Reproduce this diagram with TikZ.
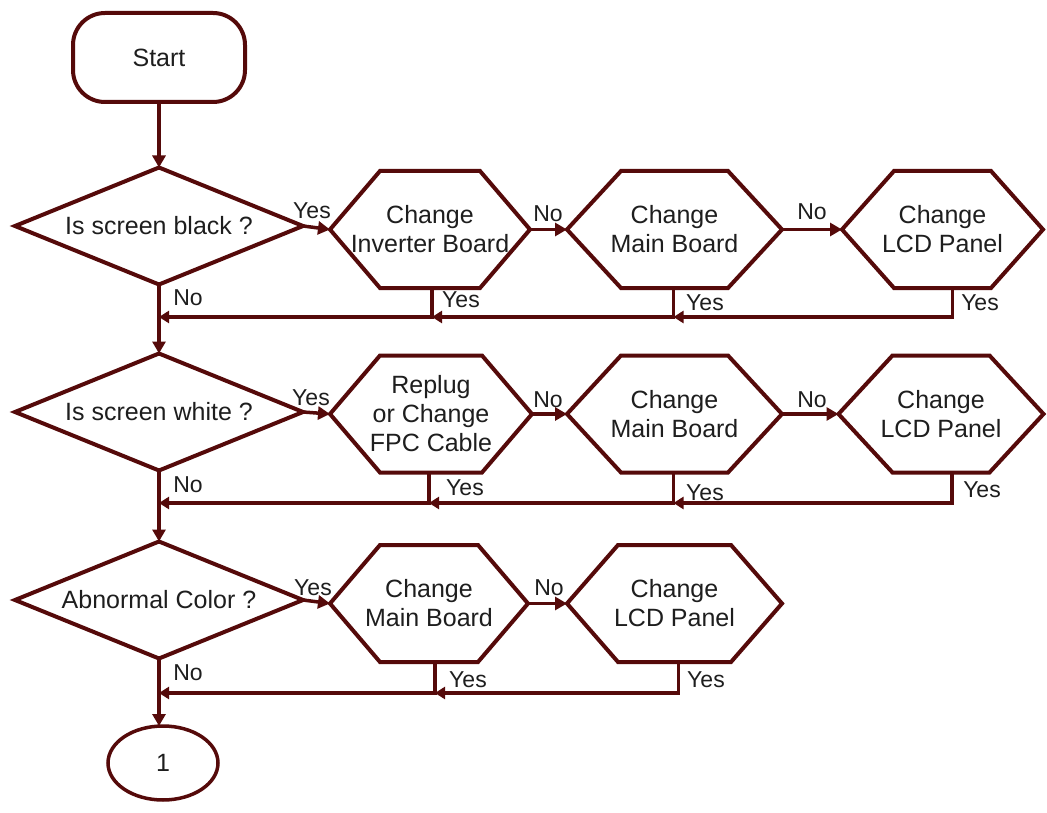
\documentclass[tikz,border=0pt]{standalone}
\usepackage{fontspec}
\setmainfont{Liberation Sans}
\usetikzlibrary{shapes.geometric,arrows.meta}
\definecolor{lc}{RGB}{85,10,10}
\definecolor{tc}{RGB}{30,30,30}
\newcommand\hexshape[2]{%
  \draw[ln] (#1.west) -- ([xshift=#2]#1.north west) -- ([xshift=-#2]#1.north east) -- (#1.east) -- ([xshift=-#2]#1.south east) -- ([xshift=#2]#1.south west) -- cycle;}
\begin{document}
\begin{tikzpicture}[x=1pt,y=-1pt,
  every node/.style={text=tc,font=\fontsize{25}{29}\selectfont},
  ln/.style={draw=lc,line width=4pt,line join=miter},
  hexbox/.style={minimum width=#1,minimum height=117pt,inner sep=0pt,outer sep=0pt,align=center},
  dec/.style={diamond,draw=lc,line width=4pt,minimum width=288pt,minimum height=117pt,inner sep=0pt,outer sep=0pt,aspect=2.45},
  lab/.style={font=\fontsize{23}{25}\selectfont,inner sep=0pt},
  arr/.style={draw=lc,line width=3.5pt,-{Triangle[length=12pt,width=13pt]}},
  fb/.style={draw=lc,line width=3.5pt,-{Triangle[length=10pt,width=12pt]}},
]
\path[fill=white] (0,0) rectangle (1047,813);
\useasboundingbox (0,0) rectangle (1047,813);

% Start
\node[draw=lc,line width=4pt,rounded corners=32pt,minimum width=172pt,minimum height=89pt,outer sep=0pt] (s) at (159,57.5) {Start};

% Row 1
\node[dec] (d1) at (159,226) {Is screen black ?};
\node[hexbox=200pt] (h1) at (430,229.5) {Change\\Inverter Board};
\node[hexbox=215pt] (h2) at (674.5,229.5) {Change\\Main Board};
\node[hexbox=201pt] (h3) at (942.5,229.5) {Change\\LCD Panel};
\hexshape{h1}{50pt}
\hexshape{h2}{54pt}
\hexshape{h3}{52pt}

% Row 2
\node[dec] (d2) at (159,412) {Is screen white ?};
\node[hexbox=202pt] (h4) at (431,414) {Replug\\or Change\\FPC Cable};
\node[hexbox=215pt] (h5) at (674.5,414) {Change\\Main Board};
\node[hexbox=205pt] (h6) at (941,414) {Change\\LCD Panel};
\hexshape{h4}{50pt}
\hexshape{h5}{54pt}
\hexshape{h6}{54pt}

% Row 3
\node[dec] (d3) at (159,600) {Abnormal Color ?};
\node[hexbox=198pt] (h7) at (429,603.5) {Change\\Main Board};
\node[hexbox=215pt] (h8) at (674.5,603.5) {Change\\LCD Panel};
\hexshape{h7}{50pt}
\hexshape{h8}{51pt}

% End
\node[ellipse,draw=lc,line width=3.5pt,minimum width=110pt,minimum height=74pt,inner sep=0pt,outer sep=0pt] (e) at (163,763) {1};

% main column
\draw[arr] (s.south) -- (d1.north);
\draw[arr] (d1.south) -- (d2.north);
\draw[arr] (d2.south) -- (d3.north);
\draw[arr] (d3.south) -- (d3.south |- e.north);

% row 1 forward
\draw[arr] (d1.east) -- (h1.west);
\draw[arr] (h1.east) -- (h2.west);
\draw[arr] (h2.east) -- (h3.west);
% row 1 feedback
\coordinate (m1) at (159,317);
\coordinate (p1) at ([xshift=2pt]h1.south);
\coordinate (p2) at ([xshift=-1pt]h2.south);
\coordinate (p3) at ([xshift=10pt]h3.south);
\draw[fb] (p1) |- (m1);
\draw[fb] (p2) |- (p1 |- m1);
\draw[fb] (p3) |- (p2 |- m1);

% row 2 forward
\draw[arr] (d2.east) -- (h4.west);
\draw[arr] (h4.east) -- (h5.west);
\draw[arr] (h5.east) -- (h6.west);
% row 2 feedback
\coordinate (m2) at (159,503);
\coordinate (q1) at ([xshift=-2pt]h4.south);
\coordinate (q2) at ([xshift=-1pt]h5.south);
\coordinate (q3) at ([xshift=11pt]h6.south);
\draw[fb] (q1) |- (m2);
\draw[fb] (q2) |- (q1 |- m2);
\draw[fb] (q3) |- (q2 |- m2);

% row 3 forward
\draw[arr] (d3.east) -- (h7.west);
\draw[arr] (h7.east) -- (h8.west);
% row 3 feedback
\coordinate (m3) at (159,693);
\coordinate (r1) at ([xshift=6pt]h7.south);
\coordinate (r2) at ([xshift=4pt]h8.south);
\draw[fb] (r1) |- (m3);
\draw[fb] (r2) |- (r1 |- m3);

% labels row 1
\node[lab] (l1) at (312,211) {Yes};
\node[lab] (l2) at (548,214) {No};
\node[lab] (l3) at (812,212) {No};
\node[lab] (l4) at (188,298) {No};
\node[lab] (l5) at (461,300) {Yes};
\node[lab] (l6) at (705,303) {Yes};
\node[lab] (l7) at (980,303) {Yes};
% labels row 2
\node[lab] (l8) at (311,398) {Yes};
\node[lab] (l9) at (548,400) {No};
\node[lab] (l10) at (812,400) {No};
\node[lab] (l11) at (188,485) {No};
\node[lab] (l12) at (465,488) {Yes};
\node[lab] (l13) at (705,493) {Yes};
\node[lab] (l14) at (982,490) {Yes};
% labels row 3
\node[lab] (l15) at (313,588) {Yes};
\node[lab] (l16) at (549,588) {No};
\node[lab] (l17) at (188,673) {No};
\node[lab] (l18) at (468,680) {Yes};
\node[lab] (l19) at (706,680) {Yes};
\end{tikzpicture}
\end{document}
